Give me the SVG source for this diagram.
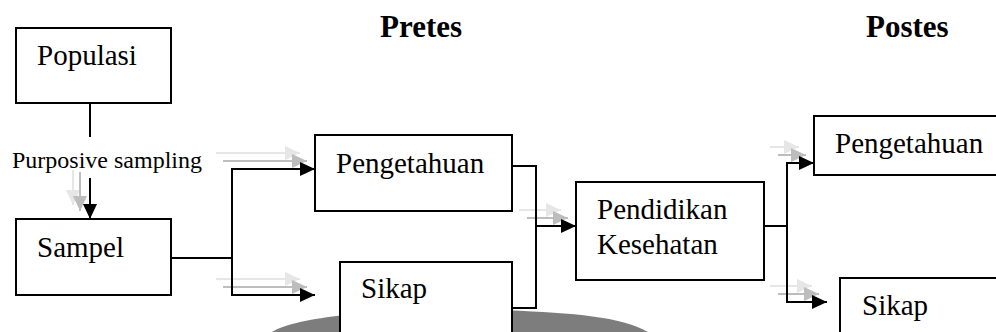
<svg xmlns="http://www.w3.org/2000/svg" width="996" height="332" viewBox="0 0 996 332">
<style>
.box{fill:#fff;stroke:#000;stroke-width:2}
.lbl{font-family:'Times New Roman','Liberation Serif',serif;font-size:29px;font-weight:400;font-style:normal;fill:#000}
.small{font-family:'Times New Roman','Liberation Serif',serif;font-size:24px;font-weight:400;fill:#000}
.title{font-family:'Times New Roman','Liberation Serif',serif;font-size:31px;font-weight:bold;fill:#000}
.con{fill:none;stroke:#000;stroke-width:2}
.g1{fill:none;stroke:#bdbdbd;stroke-width:2}
.g2{fill:none;stroke:#e6e6e6;stroke-width:2}
</style>
<defs>
<marker id="ah" markerUnits="userSpaceOnUse" markerWidth="16" markerHeight="16" refX="15" refY="7" orient="auto">
<path d="M0,0 L15,7 L0,14 z" fill="#000"/>
</marker>
<marker id="ah1" markerUnits="userSpaceOnUse" markerWidth="16" markerHeight="16" refX="15" refY="7" orient="auto">
<path d="M0,0 L15,7 L0,14 z" fill="#bdbdbd"/>
</marker>
<marker id="ah2" markerUnits="userSpaceOnUse" markerWidth="16" markerHeight="16" refX="15" refY="7" orient="auto">
<path d="M0,0 L15,7 L0,14 z" fill="#e6e6e6"/>
</marker>
</defs>
<rect width="996" height="332" fill="#fff"/>
<path d="M272 332 C300 314 420 306 500 310 C570 313 620 316 648 332 Z" fill="#6f6f6f" opacity="0.9"/>
<g id="shadows">
<line class="g2" x1="73" y1="170" x2="73" y2="205" marker-end="url(#ah2)"/>
<line class="g1" x1="80" y1="172" x2="80" y2="211" marker-end="url(#ah1)"/>
<line class="g2" x1="216" y1="153" x2="300" y2="153" marker-end="url(#ah2)"/>
<line class="g1" x1="223" y1="161" x2="307" y2="161" marker-end="url(#ah1)"/>
<line class="g2" x1="216" y1="279" x2="300" y2="279" marker-end="url(#ah2)"/>
<line class="g1" x1="223" y1="287" x2="307" y2="287" marker-end="url(#ah1)"/>
<line class="g2" x1="519" y1="210" x2="561" y2="210" marker-end="url(#ah2)"/>
<line class="g1" x1="527" y1="218" x2="568" y2="218" marker-end="url(#ah1)"/>
<line class="g2" x1="770" y1="147" x2="799" y2="147" marker-end="url(#ah2)"/>
<line class="g1" x1="778" y1="155" x2="806" y2="155" marker-end="url(#ah1)"/>
<line class="g2" x1="770" y1="286" x2="812" y2="286" marker-end="url(#ah2)"/>
<line class="g1" x1="778" y1="294" x2="819" y2="294" marker-end="url(#ah1)"/>
</g>
<g id="connectors">
<line class="con" x1="90" y1="103" x2="90" y2="137"/>
<line class="con" x1="90" y1="178" x2="90" y2="219" marker-end="url(#ah)"/>
<polyline class="con" points="171,258 232,258"/>
<polyline class="con" points="232,295 232,169 315,169" marker-end="url(#ah)"/>
<polyline class="con" points="232,258 232,295 315,295" marker-end="url(#ah)"/>
<polyline class="con" points="512,166 536,166 536,308 512,308"/>
<line class="con" x1="536" y1="226" x2="576" y2="226" marker-end="url(#ah)"/>
<line class="con" x1="764" y1="226" x2="787" y2="226"/>
<polyline class="con" points="787,226 787,163 814,163" marker-end="url(#ah)"/>
<polyline class="con" points="787,226 787,302 827,302" marker-end="url(#ah)"/>
</g>
<g id="populasi">
<rect class="box" x="16" y="28" width="155" height="75"/>
<text class="lbl" x="37" y="65">Populasi</text>
</g>
<g id="purposive">
<text class="small" x="12" y="168">Purposive sampling</text>
</g>
<g id="sampel">
<rect class="box" x="16" y="219" width="155" height="76"/>
<text class="lbl" x="37" y="257">Sampel</text>
</g>
<g id="pretes">
<text class="title" x="380" y="37">Pretes</text>
</g>
<g id="postes">
<text class="title" x="866" y="37">Postes</text>
</g>
<g id="pengetahuan-pre">
<rect class="box" x="315" y="135" width="197" height="76"/>
<text class="lbl" x="336" y="173">Pengetahuan</text>
</g>
<g id="sikap-pre">
<rect class="box" x="340" y="262" width="172" height="80"/>
<text class="lbl" x="361" y="298">Sikap</text>
</g>
<g id="pendidikan">
<rect class="box" x="576" y="182" width="188" height="98"/>
<text class="lbl" x="597" y="219">Pendidikan</text>
<text class="lbl" x="597" y="254">Kesehatan</text>
</g>
<g id="pengetahuan-post">
<rect class="box" x="814" y="116" width="190" height="59"/>
<text class="lbl" x="835" y="153">Pengetahuan</text>
</g>
<g id="sikap-post">
<rect class="box" x="840" y="278" width="170" height="70"/>
<text class="lbl" x="862" y="315">Sikap</text>
</g>
</svg>
